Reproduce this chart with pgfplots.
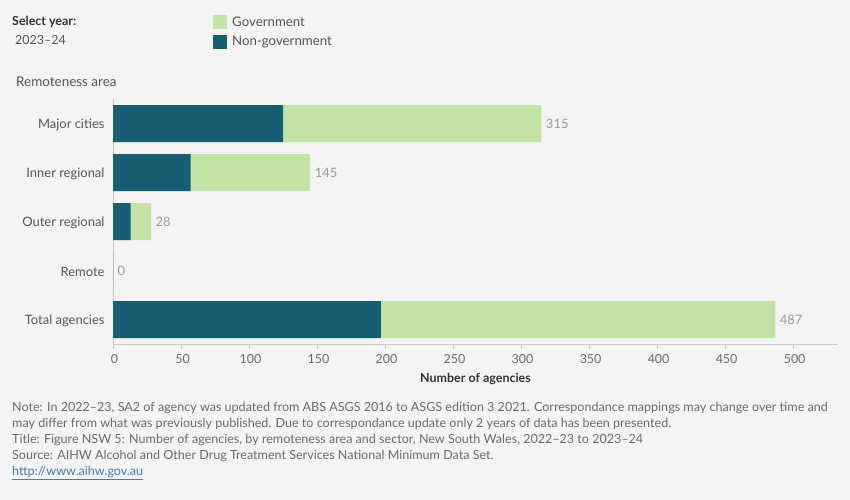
\documentclass[border=0pt]{standalone}
\usepackage{pgfplots}
\pgfplotsset{compat=1.18}
\usepackage{fontspec}
\setmainfont{Lato}

\definecolor{bg}{HTML}{F4F4F4}
\definecolor{nongov}{HTML}{175E73}
\definecolor{gov}{HTML}{C3E2A6}
\definecolor{txt}{HTML}{555555}
\definecolor{dark}{HTML}{333333}
\definecolor{note}{HTML}{6A6A6A}
\definecolor{val}{HTML}{9A9A9A}
\definecolor{axisgrey}{HTML}{C8C8C8}
\definecolor{link}{HTML}{4A7AB5}

\newcommand{\fs}[1]{\fontsize{#1}{#1}\selectfont}

\begin{document}
\begin{tikzpicture}
\path[use as bounding box, fill=bg] (0,0) rectangle (850bp,-500bp);

% header
\node[anchor=west, inner sep=0pt, text=dark, font=\fs{12.5}\bfseries] at (12bp,-22bp) {Select year:};
\node[anchor=west, inner sep=0pt, text=txt, font=\fs{12.5}] at (15bp,-40bp) {2023–24};
\fill[gov] (213bp,-15bp) rectangle ++(14bp,-14bp);
\fill[nongov] (213bp,-35bp) rectangle ++(14bp,-14bp);
\node[anchor=west, inner sep=0pt, text=txt, font=\fs{13.3}] at (232bp,-22bp) {Government};
\node[anchor=west, inner sep=0pt, text=txt, font=\fs{13.3}] at (232bp,-42bp) {Non-government};
\node[anchor=west, inner sep=0pt, text=txt, font=\fs{13.5}] at (16bp,-82bp) {Remoteness area};

\begin{axis}[
  at={(113bp,-344bp)}, anchor=south west,
  scale only axis, width=725bp, height=245bp,
  xbar, bar width=37bp, bar shift=0pt,
  xmin=0, xmax=533, ymin=-0.5, ymax=4.5,
  axis x line*=bottom, axis y line*=left,
  axis line style={axisgrey, line width=0.8pt},
  every outer x axis line/.append style={-}, every outer y axis line/.append style={-},
  xtick={0,50,...,500}, tick align=outside,
  major tick length=5bp,
  x tick style={axisgrey, line width=0.8pt},
  ytick={0,1,2,3,4}, y tick style={draw=none},
  yticklabels={Total agencies, Remote, Outer regional, Inner regional, Major cities},
  y tick label style={text=txt, font=\fs{13}, xshift=0bp, yshift=-1bp},
  x tick label style={text=note, font=\fs{12.5}, yshift=-2bp, xshift=1.5bp},
  /pgf/number format/assume math mode=true,
  xlabel={Number of agencies},
  xlabel style={text=dark, font=\fs{12.5}\bfseries, yshift=-3bp},
  nodes near coords style={text=val, font=\fs{13}, anchor=west, xshift=1bp},
]
% total agencies (government bar ends at the total)
\addplot[fill=gov, draw=none, nodes near coords, point meta=x] coordinates {
  (487,0) (0,1) (28,2) (145,3) (315,4)
};
% non-government agencies
\addplot[fill=nongov, draw=none] coordinates {
  (197,0) (0,1) (13,2) (57,3) (125,4)
};
\end{axis}

% notes
\begin{scope}[every node/.style={anchor=west, inner sep=0pt, text=note, font=\fs{12.6}}]
\node at (12bp,-408bp) {Note: In 2022–23, SA2 of agency was updated from ABS ASGS 2016 to ASGS edition 3 2021. Correspondance mappings may change over time and};
\node at (12bp,-424bp) {may differ from what was previously published. Due to correspondance update only 2 years of data has been presented.};
\node at (12bp,-440bp) {Title: Figure NSW 5: Number of agencies, by remoteness area and sector, New South Wales, 2022–23 to 2023–24};
\node at (12bp,-456bp) {Source: AIHW Alcohol and Other Drug Treatment Services National Minimum Data Set.};
\node[text=link] at (12bp,-473bp) {\underline{http://www.aihw.gov.au}};
\end{scope}
\end{tikzpicture}
\end{document}
